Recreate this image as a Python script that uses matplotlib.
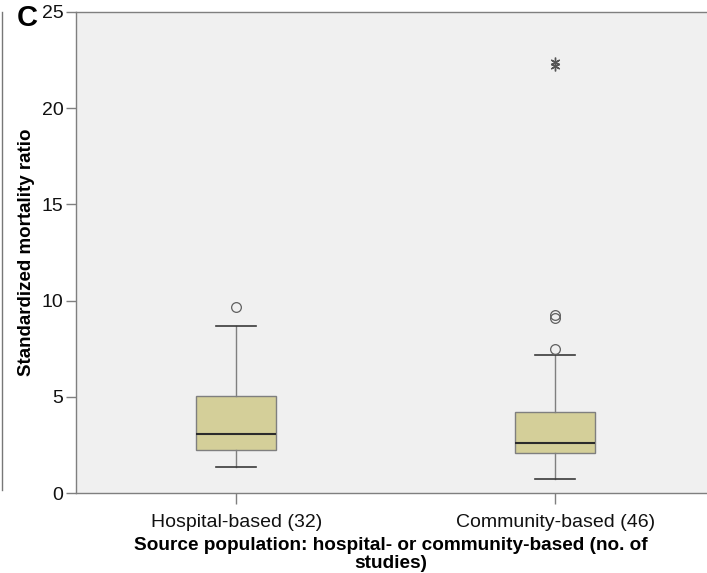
import matplotlib.pyplot as plt
from matplotlib.lines import Line2D

groups = ['Hospital-based (32)', 'Community-based (46)']
q1 = [2.23, 2.06]
median = [3.07, 2.58]
q3 = [5.06, 4.21]
whisker_low = [1.37, 0.73]
whisker_high = [8.68, 7.17]
outliers = [[9.67], [7.47, 9.07, 9.27]]
extremes = [[], [22.2, 22.4]]

box_color = '#d4cf99'
edge_color = '#7f7f7f'
font = 'Liberation Sans'

fig = plt.figure(figsize=(7.07, 5.73), dpi=100)
ax = fig.add_axes([76 / 707, 80 / 573, 631 / 707, 481 / 573])
ax.set_facecolor('#f0f0f0')

stats = []
for i, name in enumerate(groups):
    stats.append({'label': name, 'q1': q1[i], 'med': median[i], 'q3': q3[i],
                  'whislo': whisker_low[i], 'whishi': whisker_high[i],
                  'fliers': outliers[i]})

ax.bxp(stats, positions=[1, 2], widths=0.25, capwidths=0.125, patch_artist=True,
       boxprops=dict(facecolor=box_color, edgecolor=edge_color, linewidth=1.0),
       medianprops=dict(color='#2b2b2b', linewidth=1.5),
       whiskerprops=dict(color=edge_color, linewidth=1.0),
       capprops=dict(color='#3a3a3a', linewidth=1.2),
       flierprops=dict(marker='o', markersize=7, markerfacecolor='none',
                       markeredgecolor='#606060', markeredgewidth=0.9))

# extreme values drawn as asterisks
for pos, vals in zip([1, 2], extremes):
    if vals:
        ax.plot([pos] * len(vals), vals, linestyle='none', marker=(6, 2, 0),
                markersize=7, color='#555555', markeredgewidth=1.0)

ax.set_xlim(0.498, 2.476)
ax.set_ylim(0, 25)
ax.set_yticks([0, 5, 10, 15, 20, 25])
ax.set_xticks([1, 2])
ax.set_xticklabels(groups)

for side in ['left', 'bottom', 'top']:
    ax.spines[side].set_color(edge_color)
    ax.spines[side].set_linewidth(1.0)
ax.spines['right'].set_visible(False)

ax.tick_params(axis='y', direction='out', length=7, width=1.0, color=edge_color,
               labelsize=14, pad=2, labelcolor='#111111')
ax.tick_params(axis='x', direction='out', length=8, width=1.0, color=edge_color,
               labelsize=14, pad=7, labelcolor='#111111')
for lbl in ax.get_xticklabels() + ax.get_yticklabels():
    lbl.set_fontfamily(font)

ax.set_ylabel('Standardized mortality ratio', fontsize=13.5, fontweight='bold',
              fontfamily=font)
ax.yaxis.set_label_coords(-(76 - 35) / 631, 0.5)
ax.set_xlabel('Source population: hospital- or community-based (no. of\nstudies)',
              fontsize=13.7, fontweight='bold', fontfamily=font, linespacing=1.05)
ax.xaxis.set_label_coords((391 - 76) / 631, -(537 - 493) / 481)

fig.text(17 / 707, 1 - 18.5 / 573, 'C', fontsize=21, fontweight='bold',
         fontfamily=font, va='center', ha='left')
fig.add_artist(Line2D([2 / 707, 2 / 707], [1 - 12 / 573, 1 - 490 / 573],
                      color='#777777', linewidth=1.0))

fig.savefig('out.png', dpi=100)
